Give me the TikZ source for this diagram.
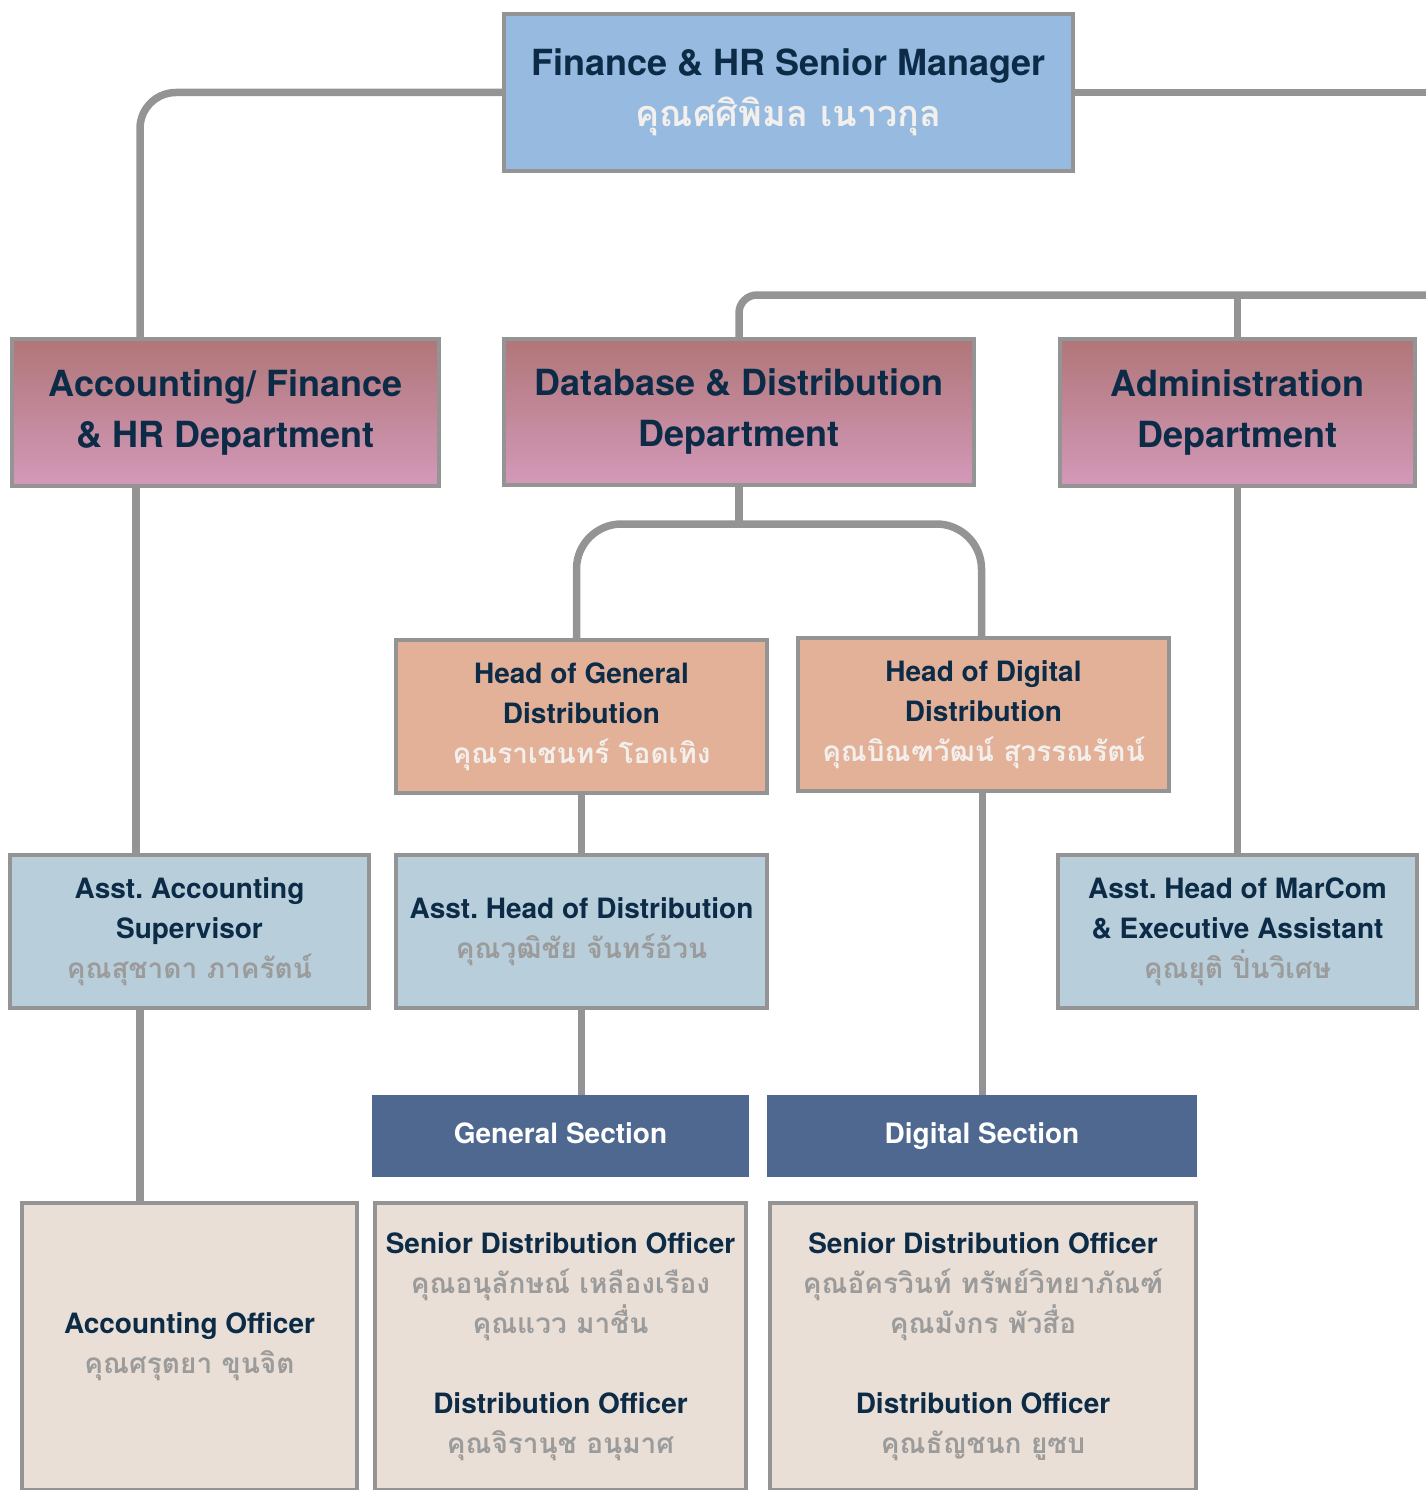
\documentclass[tikz,border=0pt]{standalone}
\usepackage{fontspec}
\setmainfont{TeX Gyre Heros}
\newfontfamily\thai[Script=Thai]{Loma}
\usetikzlibrary{backgrounds}
\frenchspacing
\definecolor{navy}{RGB}{12,43,71}
\definecolor{bordc}{RGB}{148,148,148}
\definecolor{thaigray}{RGB}{155,155,155}
\definecolor{thailight}{RGB}{242,239,236}
\definecolor{topfill}{RGB}{151,187,224}
\definecolor{depttop}{RGB}{176,118,120}
\definecolor{deptbot}{RGB}{211,153,185}
\definecolor{headfill}{RGB}{227,176,152}
\definecolor{asstfill}{RGB}{184,206,219}
\definecolor{secfill}{RGB}{78,104,144}
\definecolor{offfill}{RGB}{234,223,214}
\newcommand{\tg}[1]{{\thai\color{thaigray}#1}}
\newcommand{\tl}[1]{{\thai\color{thailight}#1}}
\begin{document}
\begin{tikzpicture}[x=1pt,y=-1pt,
  box/.style={draw=bordc, line width=4pt, inner sep=0pt, align=center, text=navy},
  big/.style={font=\fontsize{36}{51}\selectfont\bfseries},
  small/.style={font=\fontsize{28}{40}\selectfont\bfseries},
  topbox/.style={box, big, fill=topfill},
  deptbox/.style={box, big, top color=depttop, bottom color=deptbot},
  headbox/.style={box, small, fill=headfill},
  asstbox/.style={box, small, fill=asstfill},
  secbox/.style={inner sep=0pt, align=center, text=white, small, fill=secfill, text height=20pt, text depth=6pt},
  offbox/.style={box, small, fill=offfill},
  conn/.style={draw=bordc, line width=7.5pt}
]
\useasboundingbox (0,0) rectangle (1425,1490);
\clip (0,0) rectangle (1425,1490);

\node[topbox, minimum width=569pt, minimum height=157pt] (top) at (788.5,92.5)
  {Finance \& HR Senior Manager\\ \tl{คุณศศิพิมล เนาวกุล}};

\node[deptbox, minimum width=427pt, minimum height=147pt] (accd) at (225.5,412.5)
  {Accounting/ Finance\\ \& HR Department};
\node[deptbox, minimum width=470pt, minimum height=146pt] (dbd) at (739,412)
  {Database \& Distribution\\ Department};
\node[deptbox, minimum width=355pt, minimum height=147pt] (admd) at (1237.5,412.5)
  {Administration\\ Department};

\node[headbox, minimum width=371pt, minimum height=153pt] (hgen) at (581.5,716.5)
  {Head of General\\ Distribution\\ \tl{คุณราเชนทร์ โอดเทิง}};
\node[headbox, minimum width=371pt, minimum height=153pt] (hdig) at (983.5,714.5)
  {Head of Digital\\ Distribution\\ \tl{คุณบิณฑวัฒน์ สุวรรณรัตน์}};

\node[asstbox, minimum width=359pt, minimum height=153pt] (aacc) at (189.5,931.5)
  {Asst. Accounting\\ Supervisor\\ \tg{คุณสุชาดา ภาครัตน์}};
\node[asstbox, minimum width=371pt, minimum height=153pt] (ahd) at (581.5,931.5)
  {Asst. Head of Distribution\\ \tg{คุณวุฒิชัย จันทร์อ้วน}};
\node[asstbox, minimum width=359pt, minimum height=153pt] (amar) at (1237.5,931.5)
  {Asst. Head of MarCom\\ \& Executive Assistant\\ \tg{คุณยุติ ปิ่นวิเศษ}};

\node[secbox, minimum width=377pt, minimum height=82pt] (gsec) at (560.5,1136) {General Section};
\node[secbox, minimum width=430pt, minimum height=82pt] (dsec) at (982,1136) {Digital Section};

\node[offbox, minimum width=335pt, minimum height=287pt] (aoff) at (189.5,1346.5)
  {Accounting Officer\\ \tg{คุณศรุตยา ขุนจิต}};
\node[offbox, minimum width=371pt, minimum height=287pt] (sgen) at (560.5,1346.5)
  {Senior Distribution Officer\\ \tg{คุณอนุลักษณ์ เหลืองเรือง}\\ \tg{คุณแวว มาชื่น}\\[40pt]
   Distribution Officer\\ \tg{คุณจิรานุช อนุมาศ}};
\node[offbox, minimum width=426pt, minimum height=287pt] (sdig) at (983,1346.5)
  {Senior Distribution Officer\\ \tg{คุณอัครวินท์ ทรัพย์วิทยาภัณฑ์}\\ \tg{คุณมังกร พัวสื่อ}\\[40pt]
   Distribution Officer\\ \tg{คุณธัญชนก ยูซบ}};

\coordinate (r1) at (1440,92.5);
\coordinate (r2) at (1440,295);
\coordinate (split) at (739,524);

\begin{scope}[on background layer]
  \draw[conn, rounded corners=36pt] (top.west) -| (140,0 |- accd.north);
  \draw[conn] (top.east) -- (r1);
  \draw[conn, rounded corners=18pt] (r2) -| (dbd.north);
  \draw[conn] (admd.north |- r2) -- (admd.north);
  \draw[conn] (dbd.south) -- (split);
  \draw[conn, rounded corners=45pt] ([xshift=-5pt]hgen.north) |- (split) -| ([xshift=-2pt]hdig.north);
  \draw[conn] (136,0 |- accd.south) -- (136,0 |- aacc.north);
  \draw[conn] (140,0 |- aacc.south) -- (140,0 |- aoff.north);
  \draw[conn] (hgen.south) -- (ahd.north);
  \draw[conn] (ahd.south) -- (ahd.south |- gsec.north);
  \draw[conn] ([xshift=-1pt]hdig.south) -- ([xshift=-1pt]hdig.south |- dsec.north);
  \draw[conn] (admd.south) -- (amar.north);
\end{scope}
\end{tikzpicture}
\end{document}
